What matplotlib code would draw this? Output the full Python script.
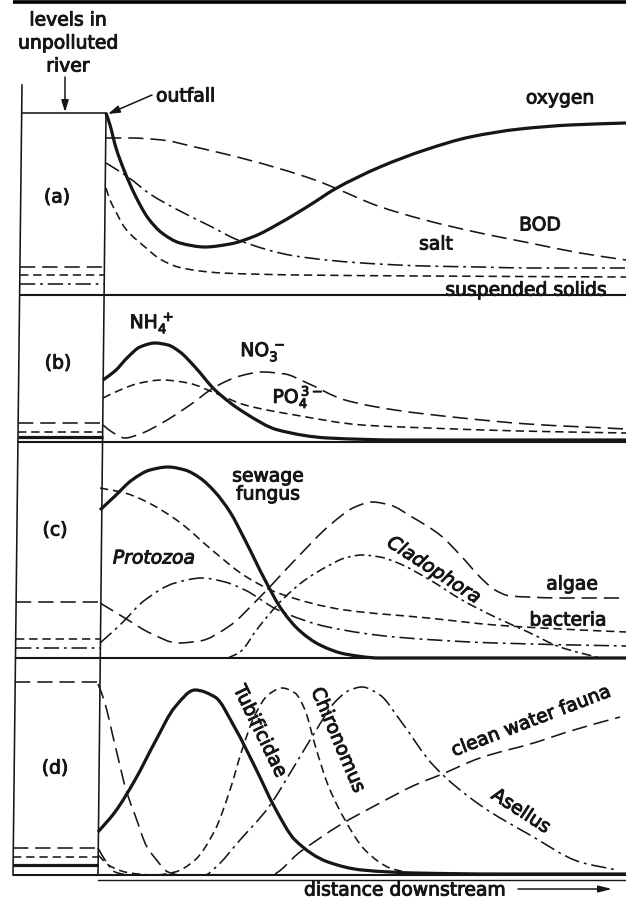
import numpy as np
import matplotlib
matplotlib.use('Agg')
import matplotlib.pyplot as plt
from matplotlib.path import Path
from matplotlib.patches import PathPatch
import matplotlib.patheffects as pe

plt.rcParams['font.family'] = ['DejaVu Sans']
plt.rcParams['lines.scale_dashes'] = False
plt.rcParams['mathtext.fontset'] = 'dejavusans'

INK = '#161616'

# ---------------- data (pixel units) ----------------
# panel (a)
oxygen_x = [106, 110, 116, 124, 135, 148, 162, 180, 205, 230, 255, 280, 310, 335, 380, 425, 470, 520, 570, 626]
oxygen_y = [113, 125, 148, 170, 195, 218, 233, 243, 247, 244, 236, 223, 205, 189, 167, 150, 137, 129, 125, 123]
bod_x = [106, 130, 162, 195, 245, 315, 335, 378, 425, 480, 530, 580, 626]
bod_y = [138, 138, 140, 147, 159, 180, 188, 206, 220, 233, 243, 253, 260]
salt_x = [106, 128, 150, 178, 210, 238, 295, 362, 425, 480, 530, 580, 626]
salt_y = [163, 177, 194, 210, 226, 240, 256, 263, 266, 267, 268, 268, 268]
solids_x = [106, 110, 115, 125, 145, 160, 178, 200, 222, 300, 425, 626]
solids_y = [188, 200, 210, 228, 247, 259, 267, 271, 273, 275, 276, 277]
a_upstream = {'oxygen': 113, 'BOD': 267, 'solids': 275, 'salt': 284}

# panel (b)
nh4_x = [103, 115, 128, 140, 155, 168, 180, 195, 215, 245, 278, 328, 400, 500, 626]
nh4_y = [380, 371, 357, 347, 343, 345, 352, 367, 390, 413, 430, 438, 440, 440, 440]
no3_x = [103, 112, 125, 140, 162, 190, 215, 240, 262, 285, 305, 345, 395, 462, 528, 626]
no3_y = [425, 432, 438, 434, 423, 405, 387, 376, 372, 374, 382, 400, 410, 418, 424, 429]
po4_x = [103, 120, 140, 162, 188, 215, 245, 295, 362, 428, 520, 626]
po4_y = [398, 390, 383, 380, 383, 393, 405, 415, 425, 428, 431, 433]
b_upstream = {'NO3': 423, 'PO4': 432, 'NH4': 437}

# panel (c)
fungus_x = [100, 115, 132, 150, 168, 185, 200, 215, 230, 245, 265, 282, 300, 320, 345, 380, 626]
fungus_y = [510, 496, 480, 470, 467, 470, 478, 492, 512, 540, 580, 610, 631, 645, 654, 658, 658]
bacteria_x = [100, 125, 145, 178, 212, 245, 278, 345, 428, 495, 560, 626]
bacteria_y = [488, 493, 501, 521, 550, 576, 593, 610, 618, 625, 629, 632]
algae_x = [100, 115, 128, 150, 178, 200, 228, 260, 295, 330, 355, 372, 390, 412, 440, 462, 480, 495, 510, 528, 560, 626]
algae_y = [603, 612, 620, 633, 643, 641, 627, 597, 560, 525, 507, 502, 505, 517, 535, 557, 577, 590, 596, 597, 598, 598]
protozoa_x = [100, 120, 145, 175, 202, 225, 245, 278, 328, 395, 495, 626]
protozoa_y = [643, 625, 600, 583, 578, 582, 590, 610, 627, 637, 643, 646]
cladophora_x = [228, 240, 258, 282, 305, 328, 345, 362, 380, 398, 430, 462, 495, 528, 560, 600]
cladophora_y = [658, 652, 628, 600, 580, 566, 558, 555, 557, 563, 580, 600, 617, 632, 647, 658]
c_upstream = {'algae': 602, 'bacteria': 639, 'protozoa': 648}

# panel (d)
tubi_x = [98, 115, 135, 155, 175, 195, 215, 235, 255, 275, 295, 328, 362, 415, 500, 626]
tubi_y = [832, 812, 780, 742, 707, 690, 697, 728, 767, 808, 840, 862, 870, 873, 874, 874]
clean_x = [98, 104, 115, 127, 135, 147, 155, 168, 180, 225, 270, 300, 340, 380, 415, 440, 480, 537, 567, 620]
clean_y = [684, 700, 745, 793, 815, 847, 858, 872, 875, 875, 875, 852, 825, 803, 785, 775, 758, 742, 732, 717]
chiro_x = [98, 110, 130, 155, 175, 195, 215, 230, 242, 255, 268, 282, 295, 305, 315, 328, 345, 365, 390, 420]
chiro_y = [855, 866, 873, 875, 872, 860, 830, 790, 750, 715, 695, 688, 693, 710, 745, 785, 820, 850, 868, 875]
asellus_x = [98, 105, 115, 130, 160, 205, 215, 240, 268, 295, 315, 335, 350, 362, 380, 400, 433, 480, 530, 580, 617]
asellus_y = [848, 860, 872, 875, 875, 875, 868, 840, 808, 765, 732, 702, 690, 687, 695, 720, 765, 805, 835, 862, 870]
d_upstream = {'clean': 682, 'asellus': 848, 'chiro': 857, 'tubi': 865}

panel_bottoms = [295, 442, 658, 875]

# ---------------- styles ----------------
THICK = 2.3
THIN = 1.15
LONG = (0, (11, 5))
SHORT = (0, (6, 3.5))
DASHDOT = (0, (11, 3.5, 2, 3.5))
DASHDOT2 = (0, (7, 3, 2, 3))


def smooth_path(x, y):
    x = np.asarray(x, float)
    y = np.asarray(y, float)
    h = np.diff(x)
    d = np.diff(y) / h
    m = np.zeros_like(x)
    m[0] = d[0]
    m[-1] = d[-1]
    for i in range(1, len(x) - 1):
        if d[i - 1] * d[i] <= 0:
            m[i] = 0.0
        else:
            w1 = 2 * h[i] + h[i - 1]
            w2 = h[i] + 2 * h[i - 1]
            m[i] = (w1 + w2) / (w1 / d[i - 1] + w2 / d[i])
    verts = [(x[0], y[0])]
    codes = [Path.MOVETO]
    for i in range(len(x) - 1):
        verts += [(x[i] + h[i] / 3, y[i] + m[i] * h[i] / 3),
                  (x[i + 1] - h[i] / 3, y[i + 1] - m[i + 1] * h[i] / 3),
                  (x[i + 1], y[i + 1])]
        codes += [Path.CURVE4] * 3
    return Path(verts, codes)


fig = plt.figure(figsize=(6.26, 9.07), dpi=100)
ax = fig.add_axes([0, 0, 1, 1])
ax.set_xlim(0, 626)
ax.set_ylim(907, 0)
ax.axis('off')


def curve(x, y, lw=THIN, ls='-'):
    p = PathPatch(smooth_path(x, y), fill=False, edgecolor=INK, lw=lw,
                  linestyle=ls, capstyle='butt', joinstyle='round')
    ax.add_patch(p)


def left_x(y):
    return 22 - 9 * (y - 85) / 790


def outfall_x(y):
    return 106 - 8 * (y - 113) / 762


def level(y, lw=THIN, ls='-'):
    ax.plot([left_x(y), outfall_x(y)], [y, y], color=INK, lw=lw, linestyle=ls,
            solid_capstyle='butt', dash_capstyle='butt')


# frame
ax.plot([13, 626], [1.5, 1.5], color='black', lw=2.6, solid_capstyle='butt')
ax.plot([left_x(85), left_x(875)], [85, 875], color=INK, lw=THIN)
ax.plot([outfall_x(113), outfall_x(875)], [113, 875], color=INK, lw=THIN)
for yb in panel_bottoms:
    ax.plot([left_x(yb), 626], [yb, yb], color=INK, lw=1.5, solid_capstyle='butt')
ax.plot([outfall_x(880), 626], [880, 880], color=INK, lw=1.0)

# panel (a)
level(a_upstream['oxygen'], THIN)
level(a_upstream['BOD'], THIN, LONG)
level(a_upstream['solids'], THIN, SHORT)
level(a_upstream['salt'], THIN, DASHDOT)
curve(bod_x, bod_y, THIN, LONG)
curve(salt_x, salt_y, THIN, DASHDOT)
curve(solids_x, solids_y, THIN, SHORT)
curve(oxygen_x, oxygen_y, THICK)

# panel (b)
level(b_upstream['NO3'], THIN, LONG)
level(b_upstream['PO4'], THIN, SHORT)
level(b_upstream['NH4'], THICK)
curve(no3_x, no3_y, THIN, LONG)
curve(po4_x, po4_y, THIN, SHORT)
curve(nh4_x, nh4_y, THICK)

# panel (c)
level(c_upstream['algae'], THIN, LONG)
level(c_upstream['bacteria'], THIN, SHORT)
level(c_upstream['protozoa'], THIN, DASHDOT)
curve(algae_x, algae_y, THIN, LONG)
curve(bacteria_x, bacteria_y, THIN, SHORT)
curve(protozoa_x, protozoa_y, THIN, DASHDOT)
curve(cladophora_x, cladophora_y, THIN, DASHDOT2)
curve(fungus_x, fungus_y, THICK)

# panel (d)
level(d_upstream['clean'], THIN, LONG)
level(d_upstream['asellus'], THIN, LONG)
level(d_upstream['chiro'], THIN, SHORT)
level(d_upstream['tubi'], THICK)
curve(clean_x, clean_y, THIN, LONG)
curve(chiro_x, chiro_y, THIN, SHORT)
curve(asellus_x, asellus_y, THIN, DASHDOT)
curve(tubi_x, tubi_y, THICK)

# ---------------- text ----------------
FS = 13.5
bold_fx = [pe.withStroke(linewidth=0.7, foreground=INK)]
tk = dict(color=INK, fontsize=FS, ha='center', va='center', path_effects=bold_fx)
ax.text(68, 20, 'levels in', **tk)
ax.text(68, 43, 'unpolluted', **tk)
ax.text(68, 66, 'river', **tk)
ax.annotate('', xy=(65, 112), xytext=(65, 77),
            arrowprops=dict(arrowstyle='-|>,head_length=0.7,head_width=0.22',
                            color=INK, lw=1.1, shrinkA=0, shrinkB=0))
ax.text(156, 96, 'outfall', color=INK, fontsize=FS, ha='left', va='center',
        path_effects=bold_fx)
ax.annotate('', xy=(108, 114), xytext=(152, 95),
            arrowprops=dict(arrowstyle='-|>,head_length=0.7,head_width=0.22',
                            color=INK, lw=1.1, shrinkA=0, shrinkB=0))

ax.text(57, 197, '(a)', **tk)
ax.text(560, 98, 'oxygen', **tk)
ax.text(540, 225, 'BOD', **tk)
ax.text(436, 244, 'salt', **tk)
ax.text(526, 290, 'suspended solids', **tk)

ax.text(58, 363, '(b)', **tk)
ax.text(152, 323, r'$\mathregular{NH_4^{\,+}}$', **tk)
ax.text(263, 352, r'$\mathregular{NO_3^{\,-}}$', **tk)
ax.text(298, 397, r'$\mathregular{PO_4^{\,3-}}$', **tk)

ax.text(55, 530, '(c)', **tk)
ax.text(268, 476, 'sewage', **tk)
ax.text(268, 494, 'fungus', **tk)
ax.text(154, 558, 'Protozoa', style='italic', **tk)
ax.text(434, 570, 'Cladophora', style='italic', rotation=-33, rotation_mode='anchor', **tk)
ax.text(572, 584, 'algae', **tk)
ax.text(568, 620, 'bacteria', **tk)

ax.text(55, 768, '(d)', **tk)
ax.text(260, 731, 'Tubificidae', rotation=-64, rotation_mode='anchor', **tk)
ax.text(338, 740, 'Chironomus', rotation=-67, rotation_mode='anchor', **tk)
ax.text(531, 721, 'clean water fauna', rotation=21, rotation_mode='anchor', **tk)
ax.text(521, 811, 'Asellus', rotation=-33, rotation_mode='anchor', **tk)

ax.text(405, 890, 'distance downstream', **tk)
ax.annotate('', xy=(612, 889), xytext=(518, 889),
            arrowprops=dict(arrowstyle='-|>,head_length=0.8,head_width=0.2',
                            color=INK, lw=1.1, shrinkA=0, shrinkB=0))

fig.savefig('out.png', dpi=100, facecolor='white')
